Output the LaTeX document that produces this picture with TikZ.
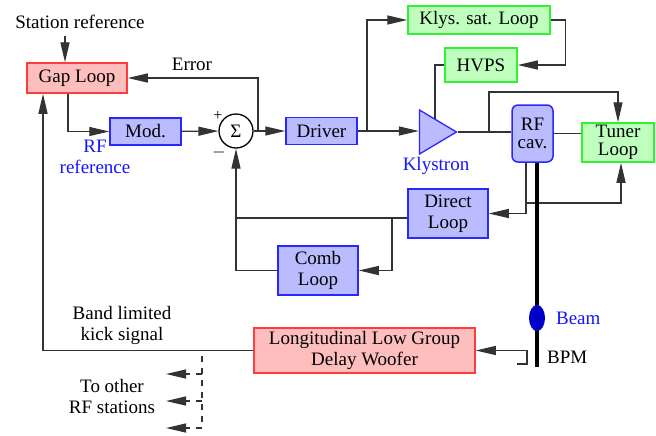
\documentclass[tikz,border=0pt]{standalone}
\usepackage{fontspec}
\setmainfont{Liberation Serif}
\usepackage{xcolor}
\usepackage{tikz}
\usetikzlibrary{shapes.geometric, arrows.meta}

\definecolor{boxblue}{RGB}{187,187,255}
\definecolor{lineblue}{RGB}{40,40,255}
\definecolor{boxred}{RGB}{255,190,190}
\definecolor{linered}{RGB}{255,60,60}
\definecolor{boxgreen}{RGB}{190,255,190}
\definecolor{linegreen}{RGB}{50,240,50}
\definecolor{textblue}{RGB}{20,20,255}
\definecolor{bunchblue}{RGB}{0,0,200}

\begin{document}
\begin{tikzpicture}[x=0.5pt, y=-0.5pt, font=\fontsize{9.5}{10.5}\selectfont,
	blk/.style={draw, line width=0.75pt, align=center, inner sep=1pt},
	blueblock/.style={blk, draw=lineblue, fill=boxblue},
	redblock/.style={blk, draw=linered, fill=boxred},
	greenblock/.style={blk, draw=linegreen, fill=boxgreen},
	tight/.style={font=\fontsize{9.5}{9}\selectfont},
	wire/.style={draw=black!80, line width=0.65pt},
	arr/.style={wire, -{Triangle[length=10pt,width=4.5pt]}},
	dasharr/.style={arr, dashed},
	bluelabel/.style={text=textblue, align=center}]
		\useasboundingbox (0,0) rectangle (656,435);

		% Gap loop and its reference
		\node (stref) at (80,22) {Station reference};
		\node[redblock, minimum width=50pt, minimum height=15pt] (gaploop) at (77,78) {Gap Loop};
		\draw[arr] ([xshift=-6pt]gaploop.north |- stref.south) -- ([xshift=-6pt]gaploop.north);

		% Modulator and summing point
		\node[blueblock, minimum width=35.5pt, minimum height=13.5pt] (mod) at (145.5,131.5) {Mod.};
		\node[bluelabel] (rfref) at (95,157) {RF\\reference};
		\node[draw, circle, line width=0.65pt, minimum size=17pt, inner sep=0pt] (sum) at (236,131) {Σ};
		\node[font=\fontsize{8}{8}\selectfont] (plus) at (218,116) {+};
		\node[font=\fontsize{8}{8}\selectfont] (minus) at (219,152) {$-$};

		% Driver, klystron and HVPS
		\node[blueblock, minimum width=35.5pt, minimum height=13.5pt] (driver) at (321.5,131) {Driver};
		\node[draw=lineblue, fill=boxblue, line width=0.65pt, isosceles triangle, isosceles triangle stretches,
			shape border rotate=0, minimum width=22pt, minimum height=18.5pt, inner sep=0pt] (kly) at (432,132) {};
		\node[bluelabel] (klylabel) at (436,166) {Klystron};
		\node[greenblock, minimum width=71pt, minimum height=14pt] (klysat) at (479,20) {Klys. sat. Loop};
		\node[greenblock, minimum width=36pt, minimum height=17pt] (hvps) at (481,65) {HVPS};

		% Cavity and tuner
		\node[blueblock, tight, rounded corners=3pt, minimum width=20.5pt, minimum height=28.5pt] (rfcav) at (532.5,133.5) {RF\\cav.};
		\node[greenblock, tight, minimum width=36pt, minimum height=19.5pt] (tuner) at (618,142.5) {Tuner\\Loop};

		% Feedback loops
		\node[blueblock, minimum width=40pt, minimum height=24.5pt] (direct) at (448,213.5) {Direct\\Loop};
		\node[blueblock, minimum width=40pt, minimum height=24.5pt] (comb) at (318,270.5) {Comb\\Loop};

		% Beam and woofer
		\node[anchor=west] (bpmlabel) at (540,357) {BPM};
		\node[redblock, minimum width=110.5pt, minimum height=22.5pt] (woofer) at (364.5,350.5) {Longitudinal Low Group\\Delay Woofer};
		\node[align=center] (kick) at (122,325) {Band limited\\kick signal};
		\node[align=center] (others) at (112,396) {To other\\RF stations};

		% Tap points and free ends
		\coordinate (errtap) at (258,131);
		\coordinate (drvtap) at (367,131);
		\coordinate (klytop) at (435,119);
		\coordinate (klytap) at (489,132);
		\coordinate (cavtap) at (526,203);
		\coordinate (dirtap) at (392,218);
		\coordinate (sumtap) at (236,218);
		\coordinate (beamend) at (537,367);
		\coordinate (bpmpick) at (517,364);
		\coordinate (kicktap) at (202,356);
		\coordinate (kickend) at (202,428);

		% Forward path
		\draw[arr] ([xshift=-4.5pt]gaploop.south) |- (mod.west);
		\draw[arr] (mod) -- (sum);
		\draw[arr] (sum) -- (driver);
		\draw[arr] (driver.east) -- (driver.east -| kly.west);
		\draw[arr] (errtap) |- (gaploop.east);
		\node (error) at (192,64) {Error};

		% Klystron saturation loop
		\draw[arr] (drvtap) |- (klysat.west);
		\draw[arr] (klysat.east) -- ++(15,0) |- (hvps.east);
		\draw[wire] (hvps.west) -| (klytop);

		% RF output and tuner loop
		\draw[wire] (kly.apex) -- (kly.apex -| rfcav.west);
		\draw[arr] (klytap) -- ++(0,-40) -| (tuner.north);
		\draw[wire] (rfcav.east) -- (rfcav.east -| tuner.west);
		\draw[arr] (cavtap) -| ([xshift=1.5pt]tuner.south);

		% Beam line with bunch
		\draw[line width=2pt] (rfcav.south -| beamend) -- (beamend);
		\node[ellipse, fill=bunchblue, minimum width=8pt, minimum height=13pt, inner sep=0pt] (bunch) at (537,318) {};
		\node[bluelabel, anchor=west] (beamlabel) at (549,318) {Beam};

		% Direct and comb loops
		\draw[arr] ([xshift=-3.25pt]rfcav.south) |- (direct.east);
		\draw[arr] ([yshift=-2.25pt]direct.west) -| (sum.south);
		\draw[arr] (dirtap) |- (comb.east);
		\draw[wire] (comb.west) -| (sumtap);

		% Woofer path
		\draw[arr] (bpmpick) -- ++(10,0) |- (woofer.east);
		\draw[arr] (woofer.west) -| ([xshift=-17pt]gaploop.south);
		\draw[wire, dashed] (kicktap) -- (kickend);
		\foreach \yy in {374,401,428}
			\draw[dasharr] (202,\yy) -- (166,\yy);
	\end{tikzpicture}
\end{document}
